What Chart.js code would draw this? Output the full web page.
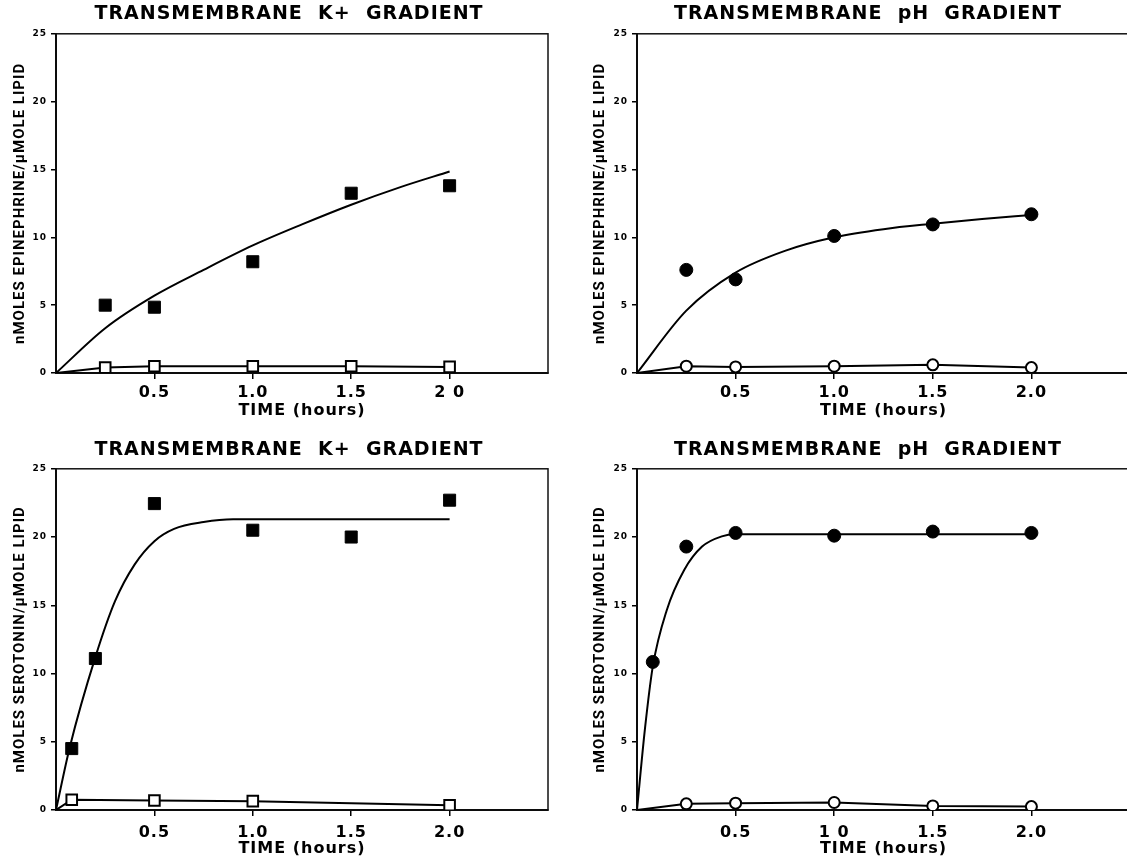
<!DOCTYPE html>
<html>
<head>
<meta charset="utf-8">
<script src="https://cdn.jsdelivr.net/npm/chart.js@4.4.0/dist/chart.umd.min.js"></script>
<style>
  html, body { margin: 0; padding: 0; background: #fff; overflow: hidden; }
  body { width: 1127px; height: 860px; position: relative; }
  canvas { position: absolute; }
</style>
</head>
<body>
<canvas id="epiK" width="578" height="425" style="left:0;top:0"></canvas>
<canvas id="epiPh" width="640" height="425" style="left:548px;top:0"></canvas>
<canvas id="seroK" width="578" height="424" style="left:0;top:436px"></canvas>
<canvas id="seroPh" width="640" height="424" style="left:548px;top:436px"></canvas>
<script>
// sampling times shared by every panel's x axis
const xTickValues = [0.5, 1.0, 1.5, 2.0];

// epinephrine uptake, K+ gradient
const epiKTime = [0.25, 0.5, 1.0, 1.5, 2.0];
const epiKFilled = [5.0, 4.85, 8.2, 13.25, 13.8];
const epiKOpenTime = [0, 0.25, 0.5, 1.0, 1.5, 2.0];
const epiKOpen = [0, 0.4, 0.5, 0.5, 0.5, 0.45];
const epiKFitTime = [0, 0.25, 0.5, 0.75, 1.0, 1.25, 1.5, 1.75, 2.0];
const epiKFit = [0, 3.3, 5.7, 7.6, 9.4, 10.95, 12.4, 13.7, 14.85];
const epiKLabels = ['0.5', '1.0', '1.5', '2 0'];

// epinephrine uptake, pH gradient
const epiPhTime = [0.25, 0.5, 1.0, 1.5, 2.0];
const epiPhFilled = [7.6, 6.9, 10.1, 10.95, 11.7];
const epiPhOpenTime = [0, 0.25, 0.5, 1.0, 1.5, 2.0];
const epiPhOpen = [0, 0.5, 0.45, 0.5, 0.6, 0.4];
const epiPhFitTime = [0, 0.25, 0.5, 0.75, 1.0, 1.25, 1.5, 1.75, 2.0];
const epiPhFit = [0, 4.6, 7.4, 9.0, 10.0, 10.6, 11.0, 11.35, 11.65];
const epiPhLabels = ['0.5', '1.0', '1.5', '2.0'];

// serotonin uptake, K+ gradient
const seroKTime = [0.08, 0.2, 0.5, 1.0, 1.5, 2.0];
const seroKFilled = [4.5, 11.1, 22.45, 20.5, 20.0, 22.7];
const seroKOpenTime = [0, 0.08, 0.5, 1.0, 2.0];
const seroKOpen = [0, 0.75, 0.7, 0.65, 0.35];
const seroKFitTime = [0, 0.07, 0.2, 0.3, 0.4, 0.5, 0.6, 0.75, 0.9, 2.0];
const seroKFit = [0, 4.6, 11.2, 15.3, 18.0, 19.7, 20.6, 21.1, 21.3, 21.3];
const seroKLabels = ['0.5', '1.0', '1.5', '2.0'];

// serotonin uptake, pH gradient
const seroPhTime = [0.08, 0.25, 0.5, 1.0, 1.5, 2.0];
const seroPhFilled = [10.85, 19.3, 20.3, 20.1, 20.4, 20.3];
const seroPhOpenTime = [0, 0.25, 0.5, 1.0, 1.5, 2.0];
const seroPhOpen = [0, 0.45, 0.5, 0.55, 0.3, 0.25];
const seroPhFitTime = [0, 0.04, 0.08, 0.15, 0.24, 0.33, 0.43, 0.5, 1.0, 1.5, 2.0];
const seroPhFit = [0, 5.9, 10.5, 14.6, 17.6, 19.3, 20.05, 20.2, 20.2, 20.2, 20.2];
const seroPhLabels = ['0.5', '1 0', '1.5', '2.0'];

Chart.defaults.color = '#000';

function pts(xs, ys) {
  return xs.map((x, i) => ({ x: x, y: ys[i] }));
}

// box around the plot area plus the wide lettering of the old plotter
const framePlugin = {
  id: 'frame',
  beforeDraw(chart) {
    chart.ctx.letterSpacing = '1px';
  },
  beforeDatasetsDraw(chart) {
    const { ctx, chartArea: a } = chart;
    ctx.save();
    ctx.strokeStyle = '#111';
    ctx.lineWidth = 1.5;
    ctx.strokeRect(a.left, a.top, a.right - a.left, a.bottom - a.top);
    ctx.restore();
  }
};

function makePanel(id, p) {
  const square = p.shape === 'rect';
  new Chart(document.getElementById(id), {
    type: 'scatter',
    data: {
      datasets: [
        {
          data: pts(p.time, p.filled),
          showLine: false,
          pointStyle: p.shape,
          pointRadius: square ? 8.5 : 6.5,
          backgroundColor: '#000',
          borderColor: '#000',
          borderWidth: 1,
          order: 0
        },
        {
          data: pts(p.openTime, p.open),
          showLine: true,
          borderColor: '#000',
          borderWidth: 2,
          backgroundColor: '#fff',
          pointStyle: p.shape,
          pointRadius: c => c.dataIndex === 0 ? 0 : (square ? 7.5 : 5.5),
          pointBorderWidth: 2,
          order: 1
        },
        {
          data: pts(p.fitTime, p.fit),
          showLine: true,
          pointRadius: 0,
          borderColor: '#000',
          borderWidth: 2,
          cubicInterpolationMode: 'monotone',
          order: 2
        }
      ]
    },
    options: {
      responsive: false,
      animation: false,
      events: [],
      plugins: {
        legend: { display: false },
        tooltip: { enabled: false },
        title: {
          display: true,
          text: p.title,
          font: { family: 'DejaVu Sans', size: 19, weight: 'bold' },
          padding: { top: 3, bottom: p.titleGap }
        }
      },
      scales: {
        x: {
          type: 'linear',
          min: 0,
          max: 2.5,
          afterBuildTicks: s => { s.ticks = xTickValues.map(v => ({ value: v })); },
          afterFit: s => { s.height = p.xAxisHeight; },
          border: { color: '#000', width: 2 },
          grid: { drawOnChartArea: false, color: '#000', lineWidth: 1.5, tickLength: 6 },
          ticks: {
            padding: p.tickPad,
            maxRotation: 0,
            font: { family: 'DejaVu Sans', size: 16, weight: 'bold' },
            callback: (v, i) => p.xLabels[i]
          },
          title: {
            display: true,
            text: 'TIME (hours)',
            font: { family: 'DejaVu Sans', size: 16, weight: 'bold' },
            padding: { top: 0, bottom: p.timePad }
          }
        },
        y: {
          min: 0,
          max: 25,
          afterFit: s => { s.width = p.yAxisWidth; },
          border: { color: '#000', width: 2 },
          grid: { drawOnChartArea: false, color: '#000', lineWidth: 1.5, tickLength: 5 },
          ticks: {
            stepSize: 5,
            padding: 4,
            font: { family: 'DejaVu Sans', size: 9, weight: 'bold' }
          },
          title: {
            display: true,
            text: p.yTitle,
            font: { family: 'Roboto', size: 15, weight: 'bold' },
            padding: { top: p.yTitlePad, bottom: 0 }
          }
        },
        // empty right-hand axis that only reserves room beside the plot
        yPad: {
          axis: 'y',
          position: 'right',
          afterFit: s => { s.width = p.rightGap; },
          grid: { display: false },
          border: { display: false },
          ticks: { display: false }
        }
      }
    },
    plugins: [framePlugin]
  });
}

const epiTitle = 'nMOLES EPINEPHRINE/µMOLE LIPID';
const seroTitle = 'nMOLES SEROTONIN/µMOLE LIPID';

makePanel('epiK', {
  title: 'TRANSMEMBRANE  K+  GRADIENT', yTitle: epiTitle, shape: 'rect',
  time: epiKTime, filled: epiKFilled, openTime: epiKOpenTime, open: epiKOpen,
  fitTime: epiKFitTime, fit: epiKFit, xLabels: epiKLabels,
  rightGap: 30, yAxisWidth: 56, xAxisHeight: 52, titleGap: 8, yTitlePad: 11,
  tickPad: 4, timePad: 5
});
makePanel('epiPh', {
  title: 'TRANSMEMBRANE  pH  GRADIENT', yTitle: epiTitle, shape: 'circle',
  time: epiPhTime, filled: epiPhFilled, openTime: epiPhOpenTime, open: epiPhOpen,
  fitTime: epiPhFitTime, fit: epiPhFit, xLabels: epiPhLabels,
  rightGap: 58, yAxisWidth: 89, xAxisHeight: 52, titleGap: 8, yTitlePad: 43,
  tickPad: 4, timePad: 5
});
makePanel('seroK', {
  title: 'TRANSMEMBRANE  K+  GRADIENT', yTitle: seroTitle, shape: 'rect',
  time: seroKTime, filled: seroKFilled, openTime: seroKOpenTime, open: seroKOpen,
  fitTime: seroKFitTime, fit: seroKFit, xLabels: seroKLabels,
  rightGap: 30, yAxisWidth: 56, xAxisHeight: 50, titleGap: 7, yTitlePad: 11,
  tickPad: 7, timePad: 2
});
makePanel('seroPh', {
  title: 'TRANSMEMBRANE  pH  GRADIENT', yTitle: seroTitle, shape: 'circle',
  time: seroPhTime, filled: seroPhFilled, openTime: seroPhOpenTime, open: seroPhOpen,
  fitTime: seroPhFitTime, fit: seroPhFit, xLabels: seroPhLabels,
  rightGap: 58, yAxisWidth: 89, xAxisHeight: 50, titleGap: 7, yTitlePad: 43,
  tickPad: 7, timePad: 2
});
</script>
</body>
</html>
